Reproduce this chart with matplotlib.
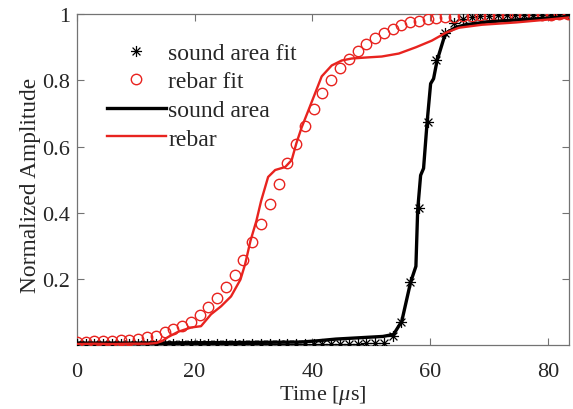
import numpy as np
import matplotlib
matplotlib.use("Agg")
import matplotlib.pyplot as plt
from matplotlib.path import Path

plt.rcParams['font.family'] = ['Liberation Serif', 'DejaVu Serif']
plt.rcParams['mathtext.fontset'] = 'custom'
plt.rcParams['mathtext.rm'] = 'Liberation Serif'
plt.rcParams['mathtext.it'] = 'Liberation Serif:italic'

# ---- data ----
t_fit = [0.00, 1.49, 2.98, 4.47, 5.96, 7.45, 8.94, 10.43, 11.92, 13.41,
         14.90, 16.39, 17.88, 19.37, 20.86, 22.35, 23.84, 25.33, 26.82, 28.31,
         29.80, 31.29, 32.78, 34.27, 35.76, 37.25, 38.74, 40.23, 41.72, 43.21,
         44.70, 46.19, 47.68, 49.17, 50.66, 52.15, 53.64, 55.13, 56.62, 58.11,
         59.60, 61.09, 62.58, 64.07, 65.56, 67.05, 68.54, 70.03, 71.52, 73.01,
         74.50, 75.99, 77.48, 78.97, 80.46, 81.95, 83.44]

rebar_fit = [0.010, 0.010, 0.011, 0.012, 0.013, 0.014, 0.016, 0.019, 0.024, 0.028,
             0.038, 0.047, 0.059, 0.071, 0.090, 0.116, 0.143, 0.176, 0.212, 0.257,
             0.311, 0.365, 0.425, 0.486, 0.549, 0.609, 0.663, 0.714, 0.762, 0.802,
             0.836, 0.866, 0.890, 0.911, 0.927, 0.944, 0.956, 0.966, 0.975, 0.979,
             0.984, 0.987, 0.990, 0.992, 0.994, 0.995, 0.996, 0.997, 0.997, 0.998,
             0.998, 0.999, 0.999, 0.999, 0.999, 1.000, 1.000]

sound_fit = [0.004, 0.004, 0.004, 0.004, 0.004, 0.004, 0.004, 0.004, 0.004, 0.004,
             0.004, 0.004, 0.004, 0.004, 0.004, 0.004, 0.004, 0.004, 0.004, 0.004,
             0.004, 0.004, 0.004, 0.004, 0.004, 0.004, 0.004, 0.004, 0.004, 0.004,
             0.004, 0.004, 0.004, 0.005, 0.005, 0.006, 0.026, 0.070, 0.190, 0.415,
             0.675, 0.860, 0.942, 0.972, 0.984, 0.990, 0.993, 0.995, 0.996, 0.997,
             0.998, 0.998, 0.999, 0.999, 0.999, 1.000, 1.000]

t_rebar = [0, 3, 6, 9, 12, 13.5, 14.5, 15.5, 17.2, 19.4, 21.1, 22.8, 24.5, 26.2,
           27.8, 28.6, 29.5, 30.5, 31.3, 32.5, 33.7, 35.4, 36.5, 37.3, 38.2, 39.4,
           40.5, 41.6, 43.3, 45.0, 46.7, 49.1, 51.8, 54.7, 57.6, 60.3, 62.7, 64.9,
           68.8, 74.6, 80.2, 83.6]
rebar = [0.003, 0.004, 0.003, 0.004, 0.004, 0.006, 0.012, 0.024, 0.040, 0.053,
         0.057, 0.093, 0.117, 0.147, 0.198, 0.245, 0.315, 0.375, 0.435, 0.508,
         0.529, 0.538, 0.559, 0.610, 0.658, 0.712, 0.762, 0.812, 0.845, 0.860,
         0.866, 0.869, 0.872, 0.881, 0.900, 0.920, 0.944, 0.959, 0.968, 0.975,
         0.984, 0.990]

t_sound = [0, 10, 20, 30, 38, 41, 44, 48, 52, 53.8, 55.2, 56.7, 57.6, 57.9,
           58.4, 58.9, 59.5, 60.1, 60.6, 61.2, 62.4, 62.9, 64.4, 66.0, 70.0,
           75.0, 80.0, 83.6]
sound = [0.006, 0.006, 0.007, 0.008, 0.009, 0.013, 0.018, 0.022, 0.026, 0.032,
         0.072, 0.190, 0.238, 0.408, 0.513, 0.534, 0.673, 0.790, 0.805, 0.860,
         0.930, 0.945, 0.960, 0.968, 0.977, 0.983, 0.988, 0.993]

# MATLAB-style asterisk marker (8 arms)
c = 0.7071
ast_verts = [(-1, 0), (1, 0), (0, -1), (0, 1), (-c, -c), (c, c), (-c, c), (c, -c)]
ast_codes = [Path.MOVETO, Path.LINETO] * 4
asterisk = Path(ast_verts, ast_codes)

fig = plt.figure(figsize=(5.73, 4.10), dpi=100)
ax = fig.add_axes([0.134, 0.156, 0.859, 0.807])

ax.plot(t_fit, sound_fit, linestyle='none', marker=asterisk, markersize=8,
        markeredgecolor='black', markerfacecolor='none', markeredgewidth=0.9,
        label='sound area fit', zorder=3)
ax.plot(t_fit, rebar_fit, linestyle='none', marker='o', markersize=7.5,
        markeredgecolor='#e8231f', markerfacecolor='none', markeredgewidth=1.0,
        label='rebar fit', zorder=3)
ax.plot(t_sound, sound, color='black', linewidth=2.4, label='sound area', zorder=4)
ax.plot(t_rebar, rebar, color='#e8231f', linewidth=1.7, label='rebar', zorder=4)

ax.set_xlim(0, 83.6)
ax.set_ylim(0, 1)
ax.set_xticks([0, 20, 40, 60, 80])
ax.set_yticks([0.2, 0.4, 0.6, 0.8, 1.0])
ax.set_yticklabels(['0.2', '0.4', '0.6', '0.8', '1'])
ax.tick_params(direction='in', top=True, right=True, length=5, width=0.8,
               labelsize=16, colors='0.45', labelcolor='#262626', pad=5)
ax.tick_params(axis='x', pad=12)
for s in ax.spines.values():
    s.set_color('0.45')
    s.set_linewidth(0.9)

ax.set_xlabel(r'Time [$\mu$s]', fontsize=16, color='#262626', labelpad=2)
ax.set_ylabel('Normalized Amplitude', fontsize=16.8, color='#262626', labelpad=1)
ax.yaxis.label.set_y(0.485)

leg = ax.legend(loc='upper left', bbox_to_anchor=(0.061, 0.915), frameon=False,
                fontsize=17, handlelength=2.5, handletextpad=0.1,
                labelspacing=0.3, borderpad=0, borderaxespad=0, numpoints=1)
for txt in leg.get_texts():
    txt.set_color('#262626')

fig.savefig('out.png', dpi=100)
